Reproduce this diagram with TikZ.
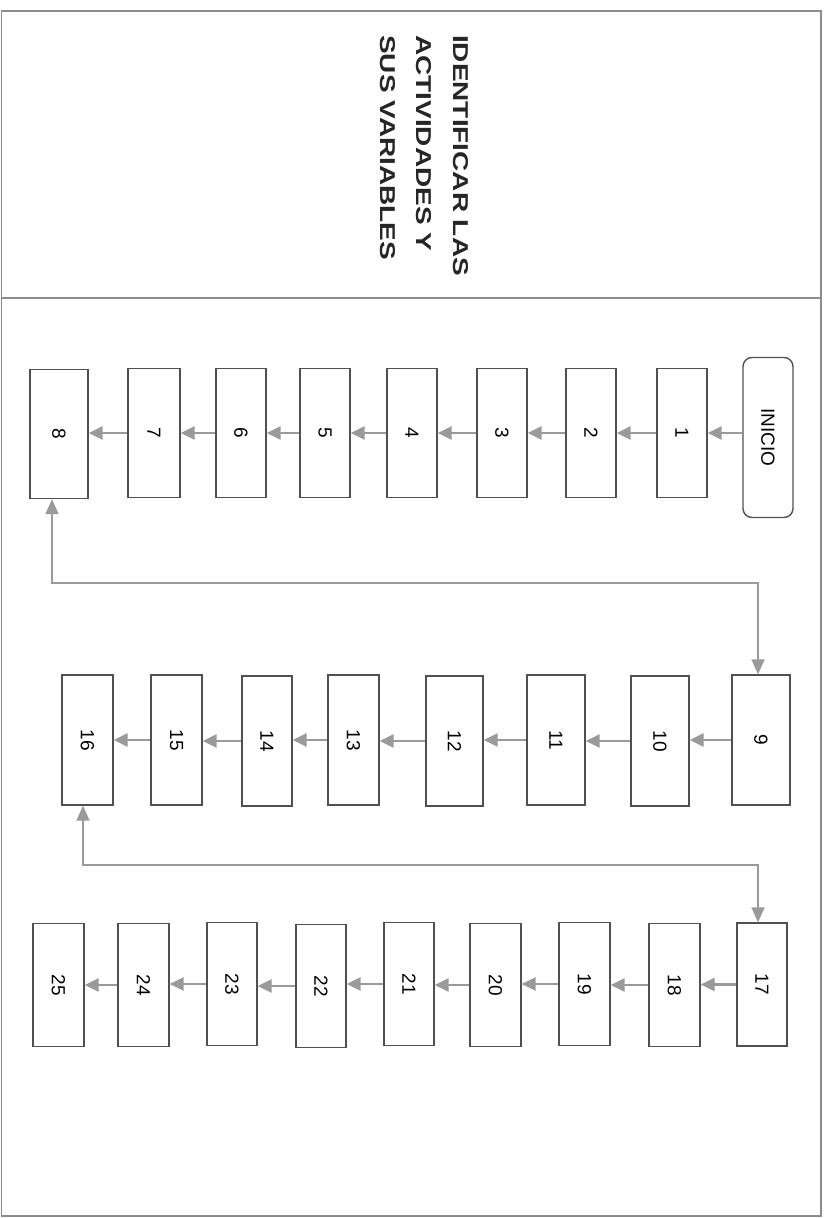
\documentclass[tikz,border=0pt]{standalone}
\usepackage{fontspec}
\setmainfont{Liberation Sans}
\usetikzlibrary{arrows.meta}
\definecolor{boxline}{HTML}{505050}
\definecolor{arrgray}{HTML}{9A9A9A}
\definecolor{framegray}{HTML}{8C8C8C}
\newcommand{\rt}[1]{\rotatebox{-90}{#1}}
\begin{document}
\begin{tikzpicture}[x=1pt,y=-1pt,
  stepbox/.style={draw=boxline, line width=1.4pt, fill=white, inner sep=0pt,
    minimum width=50pt, minimum height=129pt, font=\fontsize{19}{22}\selectfont},
  flow/.style={draw=arrgray, line width=2.8pt, shorten <=0.7pt, -{Triangle[length=14pt,width=13pt]}},
  loopline/.style={draw=arrgray, line width=1.6pt,
    {Triangle[length=15pt,width=13pt]}-{Triangle[length=15pt,width=13pt]}},
  frameline/.style={draw=framegray, line width=1.1pt}
]
\useasboundingbox (0,0) rectangle (824,1218);
\fill[white] (0,0) rectangle (824,1218);
% frame
\draw[frameline] (1.5,11) rectangle (821,1216);
\coordinate (sepL) at (1.5,298);
\coordinate (sepR) at (821,298);
\draw[frameline] (sepL) -- (sepR);
% title
\node[anchor=base west, rotate=-90, inner sep=0pt,
  font=\fontsize{21.5}{36.5}\selectfont\bfseries, text=black!85] (title) at (453,35)
  {\scalebox{1.3}[1]{\begin{tabular}[t]{@{}l@{}}IDENTIFICAR LAS\\ACTIVIDADES Y\\SUS VARIABLES\end{tabular}}};
% row 1
\node[stepbox, rounded corners=9pt, minimum height=160pt] (ini) at (768,437.5) {\rt{INICIO}};
\node[stepbox] (n1) at (682,433) {\rt{1}};
\node[stepbox] (n2) at (591,433) {\rt{2}};
\node[stepbox] (n3) at (502,433) {\rt{3}};
\node[stepbox] (n4) at (412,433) {\rt{4}};
\node[stepbox] (n5) at (325,433) {\rt{5}};
\node[stepbox] (n6) at (241,433) {\rt{6}};
\node[stepbox, minimum width=52pt] (n7) at (154,433) {\rt{7}};
\node[stepbox, minimum width=58pt] (n8) at (59,434) {\rt{8}};
% row 2
\node[stepbox, minimum width=58pt, minimum height=130pt] (n9) at (761,740) {\rt{9}};
\node[stepbox, minimum width=58pt, minimum height=130pt] (n10) at (660,741) {\rt{10}};
\node[stepbox, minimum width=58pt, minimum height=130pt] (n11) at (556,740) {\rt{11}};
\node[stepbox, minimum width=57pt, minimum height=130pt] (n12) at (454.5,741) {\rt{12}};
\node[stepbox, minimum width=51pt, minimum height=130pt] (n13) at (353.5,740) {\rt{13}};
\node[stepbox, minimum width=50pt, minimum height=130pt] (n14) at (267,741) {\rt{14}};
\node[stepbox, minimum width=51pt, minimum height=130pt] (n15) at (176.5,740) {\rt{15}};
\node[stepbox, minimum width=51pt, minimum height=130pt] (n16) at (87.5,740) {\rt{16}};
% row 3
\node[stepbox, minimum height=123pt] (n17) at (762,984.5) {\rt{17}};
\node[stepbox, minimum width=51pt, minimum height=123pt] (n18) at (674.5,985) {\rt{18}};
\node[stepbox, minimum width=51pt, minimum height=123pt] (n19) at (584.5,984) {\rt{19}};
\node[stepbox, minimum width=51pt, minimum height=123pt] (n20) at (495.5,985) {\rt{20}};
\node[stepbox, minimum height=123pt] (n21) at (409,984) {\rt{21}};
\node[stepbox, minimum height=123pt] (n22) at (321,986) {\rt{22}};
\node[stepbox, minimum height=123pt] (n23) at (232,984) {\rt{23}};
\node[stepbox, minimum width=51pt, minimum height=123pt] (n24) at (143.5,985) {\rt{24}};
\node[stepbox, minimum width=51pt, minimum height=123pt] (n25) at (58.5,985) {\rt{25}};
% flow arrows row 1
\draw[flow] (ini.west |- n1.east) -- (n1.east);
\draw[flow] (n1.west) -- (n2.east);
\draw[flow] (n2.west) -- (n3.east);
\draw[flow] (n3.west) -- (n4.east);
\draw[flow] (n4.west) -- (n5.east);
\draw[flow] (n5.west) -- (n6.east);
\draw[flow] (n6.west) -- (n7.east);
\draw[flow] (n7.west) -- (n8.east |- n7.west);
% row 2
\draw[flow] (n9.west) -- (n10.east |- n9.west);
\draw[flow] (n10.west) -- (n11.east |- n10.west);
\draw[flow] (n11.west) -- (n12.east |- n11.west);
\draw[flow] (n12.west) -- (n13.east |- n12.west);
\draw[flow] (n13.west) -- (n14.east |- n13.west);
\draw[flow] (n14.west) -- (n15.east |- n14.west);
\draw[flow] (n15.west) -- (n16.east |- n15.west);
% row 3
\draw[flow] (n17.west) -- (n18.east |- n17.west);
\draw[flow] (n18.west) -- (n19.east |- n18.west);
\draw[flow] (n19.west) -- (n20.east |- n19.west);
\draw[flow] (n20.west) -- (n21.east |- n20.west);
\draw[flow] (n21.west) -- (n22.east |- n21.west);
\draw[flow] (n22.west) -- (n23.east |- n22.west);
\draw[flow] (n23.west) -- (n24.east |- n23.west);
\draw[flow] (n24.west) -- (n25.east |- n24.west);
% loops
\coordinate (a1) at (52,583);
\coordinate (a2) at (758,583);
\draw[loopline] (n8.south -| a1) -- (a1) -- (a2) -- (a2 |- n9.north);
\coordinate (b1) at (83,865);
\coordinate (b2) at (758,865);
\draw[loopline] (n16.south -| b1) -- (b1) -- (b2) -- (b2 |- n17.north);
\end{tikzpicture}
\end{document}
